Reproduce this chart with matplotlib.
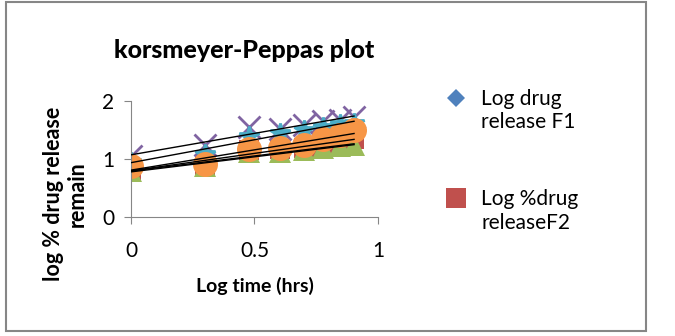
import matplotlib.pyplot as plt
from matplotlib.patches import Rectangle

plt.rcParams['font.family'] = ['Lato', 'DejaVu Sans']

# log time (hrs) = log10(1..8 h)
log_time = [0.0, 0.301, 0.477, 0.602, 0.699, 0.778, 0.845, 0.903]

# log % drug release
f1 = [0.76, 0.90, 1.10, 1.12, 1.15, 1.18, 1.20, 1.22]
f2 = [0.82, 0.90, 1.15, 1.18, 1.20, 1.25, 1.30, 1.35]
f3 = [0.80, 0.88, 1.12, 1.13, 1.15, 1.20, 1.22, 1.25]
f4 = [1.05, 1.25, 1.55, 1.52, 1.58, 1.65, 1.68, 1.72]
f5 = [0.95, 1.08, 1.40, 1.45, 1.50, 1.55, 1.60, 1.62]
f6 = [0.88, 0.92, 1.18, 1.20, 1.25, 1.35, 1.42, 1.50]

first_lines = ["Log drug", "Log %drug", "F3", "F4", "F5", "F6"]
second_lines = ["release F1", "releaseF2"]
series = [f1, f2, f3, f4, f5, f6]
colors = ["#4F81BD", "#C0504D", "#9BBB59", "#8064A2", "#4BACC6", "#F79646"]
markers = ["D", "s", "^", "x", "*", "o"]
sizes = [9, 15, 16, 16, 15, 18]

fig = plt.figure(figsize=(6.75, 3.36), dpi=100)
ax = fig.add_axes([0.194, 0.354, 0.366, 0.345])

handles = []
for y, lab, c, m, s in zip(series, first_lines, colors, markers, sizes):
    mew = 2 if m in ("x", "*") else 0
    h, = ax.plot(log_time, y, linestyle="none", marker=m, color=c, markersize=s,
                 markeredgewidth=mew, label=lab)
    handles.append(h)

# linear trendlines
for y in series:
    n = len(log_time)
    mx = sum(log_time) / n
    my = sum(y) / n
    b = sum((a - mx) * (v - my) for a, v in zip(log_time, y)) / sum((a - mx) ** 2 for a in log_time)
    a0 = my - b * mx
    ax.plot([log_time[0], log_time[-1]], [a0 + b * log_time[0], a0 + b * log_time[-1]],
            color="black", linewidth=1, zorder=5)

ax.set_xlim(0, 1)
ax.set_ylim(0, 2)
ax.set_xticks([0, 0.5, 1])
ax.set_xticklabels(["0", "0.5", "1"])
ax.set_yticks([0, 1, 2])
for sp in ["top", "right"]:
    ax.spines[sp].set_visible(False)
for sp in ["left", "bottom"]:
    ax.spines[sp].set_color("#868686")
ax.tick_params(colors="#868686", labelsize=15, length=5)
ax.tick_params(axis="x", pad=12)
ax.tick_params(axis="y", pad=7)
for lab in ax.get_xticklabels() + ax.get_yticklabels():
    lab.set_color("black")

ax.set_xlabel("Log time (hrs)", fontsize=14, fontweight="bold", labelpad=12)
ax.set_ylabel("log % drug release\nremain", fontsize=15.5, fontweight="bold",
              linespacing=1.2, va="center", ha="center")
ax.yaxis.set_label_coords(-0.265, 0.2)

fig.text(0.361, 0.85, "korsmeyer-Peppas plot", fontsize=18, fontweight="black",
         ha="center", va="center")

leg = fig.legend(handles[:2], first_lines[:2], loc="upper left", bbox_to_anchor=(0.645, 0.766),
                 frameon=False, fontsize=15, labelspacing=3.85, handletextpad=0.7,
                 handlelength=1.0, borderpad=0)

# second line of each legend label, under the first
fig.canvas.draw()
inv = fig.transFigure.inverted()
for t, extra in zip(leg.get_texts(), second_lines):
    bb = t.get_window_extent().transformed(inv)
    fig.text(bb.x0, bb.y0 - 0.01, extra, fontsize=15, ha="left", va="top")

fig.patches.append(Rectangle((6 / 675, 5 / 336), 640 / 675, 329 / 336,
                             transform=fig.transFigure, fill=False,
                             edgecolor="#868686", linewidth=1.5))

fig.savefig("out.png", dpi=100)
